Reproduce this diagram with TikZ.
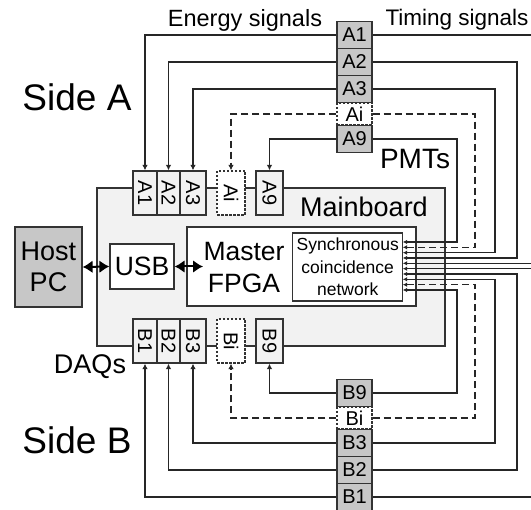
\documentclass[tikz,border=0pt]{standalone}
\usepackage{fontspec}
\setmainfont{Liberation Sans}
\usetikzlibrary{arrows.meta,calc}

\newcommand{\fs}[1]{\fontsize{#1}{#1}\selectfont}

\begin{document}
\begin{tikzpicture}[x=1pt,y=-1pt,
  wire/.style={line width=1.4pt, draw=black!85},
  dwire/.style={wire, dash pattern=on 7pt off 4pt},
  tip/.style={-{Latex[length=5.5pt,width=5.5pt]}},
  btip/.style={-{Latex[length=4.5pt,width=4.5pt]}},
  box/.style={draw=black!80, line width=1.2pt, inner sep=0pt},
  pmt/.style={box, fill=black!22, minimum width=35pt, minimum height=27pt, font=\fs{20}},
  pmtd/.style={pmt, fill=white, dash pattern=on 2.5pt off 1.5pt, minimum height=22pt},
  conn/.style={box, fill=black!5, minimum height=44pt, font=\fs{20}},
  connd/.style={conn, fill=white, dash pattern=on 2.5pt off 1.5pt},
  hostarrow/.style={line width=2pt, {Latex[length=10pt,width=13pt]}-{Latex[length=10pt,width=13pt]}},
]
\useasboundingbox (0,0) rectangle (531,510);
\clip (0,0) rectangle (531,510);

% mainboard
\node[box, fill=black!5, minimum width=348pt, minimum height=158pt] (mb) at (271,267) {};
\node[font=\fs{27}] (mbl) at (364,207) {Mainboard};

% host, USB, FPGA
\node[box, fill=black!22, minimum width=67pt, minimum height=80pt, align=center, font=\fs{27}] (host) at (48.5,267) {Host\\[4pt]PC};
\node[box, fill=white, minimum width=64pt, minimum height=45pt, font=\fs{26.5}] (usb) at (142,266.5) {USB};
\node[box, fill=white, minimum width=229pt, minimum height=79pt] (fpga) at (301.5,266.5) {};
\node[align=center, font=\fs{26.5}] (fpgal) at (244,267.5) {Master\\[5pt]FPGA};
\node[box, fill=white, minimum width=110pt, minimum height=68pt, align=center, font=\fs{17.5}] (sync) at (347.7,267) {Synchronous\\[5pt]coincidence\\[5pt]network};

\coordinate (fpgain) at (203,266.5);
\draw[hostarrow] (host.east) -- (usb.west);
\draw[hostarrow] (usb.east) -- (fpgain);

% connectors on the mainboard, side A
\node[conn, minimum width=24pt] (cA1) at (145,193) {\rotatebox{-90}{A1}};
\node[conn, minimum width=23pt] (cA2) at (168.5,193) {\rotatebox{-90}{A2}};
\node[conn, minimum width=26pt] (cA3) at (193,193) {\rotatebox{-90}{A3}};
\node[connd, minimum width=28pt] (cAi) at (231,193) {\rotatebox{-90}{Ai}};
\node[conn, minimum width=27pt] (cA9) at (269.5,193) {\rotatebox{-90}{A9}};
% connectors on the mainboard, side B
\node[conn, minimum width=24pt] (cB1) at (145,341) {\rotatebox{-90}{B1}};
\node[conn, minimum width=23pt] (cB2) at (168.5,341) {\rotatebox{-90}{B2}};
\node[conn, minimum width=26pt] (cB3) at (193,341) {\rotatebox{-90}{B3}};
\node[connd, minimum width=28pt] (cBi) at (231,341) {\rotatebox{-90}{Bi}};
\node[conn, minimum width=27pt] (cB9) at (269.5,341) {\rotatebox{-90}{B9}};

% PMT columns
\node[pmt] (pA1) at (354.5,35) {A1};
\node[pmt] (pA2) at (354.5,62) {A2};
\node[pmt] (pA3) at (354.5,89) {A3};
\node[pmtd] (pAi) at (354.5,114) {Ai};
\node[pmt] (pA9) at (354.5,139) {A9};
\node[pmt] (pB9) at (354.5,393) {B9};
\node[pmtd] (pBi) at (354.5,418) {Bi};
\node[pmt] (pB3) at (354.5,443) {B3};
\node[pmt] (pB2) at (354.5,470) {B2};
\node[pmt] (pB1) at (354.5,497) {B1};

% entry points of the timing bundle on the coincidence network
\coordinate (inA9) at (402.7,242);
\coordinate (inAi) at (402.7,247.3);
\coordinate (inA3) at (402.7,252.7);
\coordinate (inA2) at (402.7,258);
\coordinate (inA1) at (402.7,263.3);
\coordinate (inB1) at (402.7,268.7);
\coordinate (inB2) at (402.7,274);
\coordinate (inB3) at (402.7,279.3);
\coordinate (inBi) at (402.7,284.7);
\coordinate (inB9) at (402.7,290);
% turning columns of the timing wires
\coordinate (t9) at (457,0);
\coordinate (ti) at (475,0);
\coordinate (t3) at (495,0);
\coordinate (t2) at (517,0);
\coordinate (t1) at (545,0);

% energy signals
\draw[wire,tip] (pA1.west) -| (cA1.north);
\draw[wire,tip] (pA2.west) -| (cA2.north);
\draw[wire,tip] (pA3.west) -| (cA3.north);
\draw[dwire,tip] (pAi.west) -| (cAi.north);
\draw[wire,tip] (pA9.west) -| (cA9.north);
\draw[wire,tip] (pB1.west) -| (cB1.south);
\draw[wire,tip] (pB2.west) -| (cB2.south);
\draw[wire,tip] (pB3.west) -| (cB3.south);
\draw[dwire,tip] (pBi.west) -| (cBi.south);
\draw[wire,tip] (pB9.west) -| (cB9.south);

% timing signals
\draw[wire,btip] (pA1.east) -| (t1 |- inA1) -- (inA1);
\draw[wire,btip] (pA2.east) -| (t2 |- inA2) -- (inA2);
\draw[wire,btip] (pA3.east) -| (t3 |- inA3) -- (inA3);
\draw[dwire,btip] (pAi.east) -| (ti |- inAi) -- (inAi);
\draw[wire,btip] (pA9.east) -| (t9 |- inA9) -- (inA9);
\draw[wire,btip] (pB1.east) -| (t1 |- inB1) -- (inB1);
\draw[wire,btip] (pB2.east) -| (t2 |- inB2) -- (inB2);
\draw[wire,btip] (pB3.east) -| (t3 |- inB3) -- (inB3);
\draw[dwire,btip] (pBi.east) -| (ti |- inBi) -- (inBi);
\draw[wire,btip] (pB9.east) -| (t9 |- inB9) -- (inB9);

% labels
\node[font=\fs{23.5}] (lE) at (245,20) {Energy signals};
\node[font=\fs{22.5}] (lT) at (457,20) {Timing signals};
\node[font=\fs{37}] (lSA) at (77,97) {Side A};
\node[font=\fs{37}] (lSB) at (77,440) {Side B};
\node[font=\fs{28}] (lP) at (415,159) {PMTs};
\node[font=\fs{27}] (lD) at (90,367) {DAQs};
\end{tikzpicture}
\end{document}
